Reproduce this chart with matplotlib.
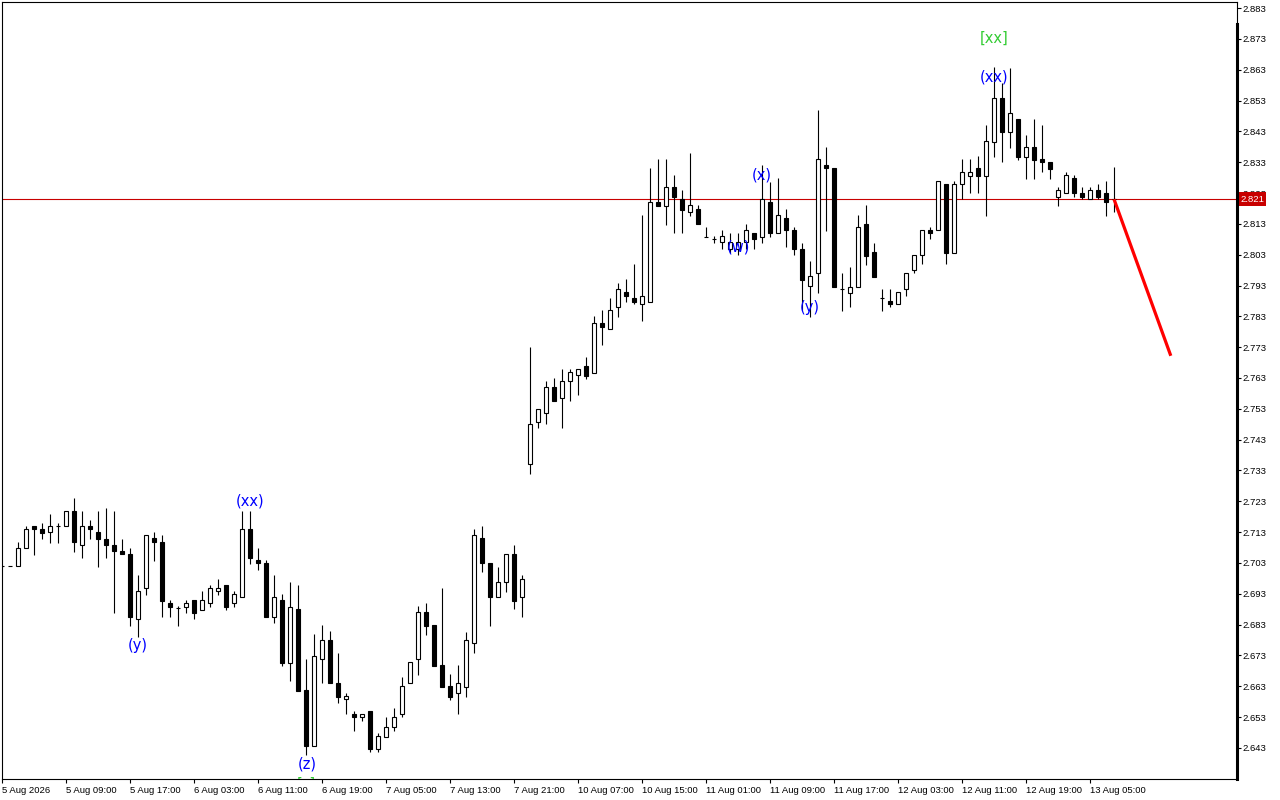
import numpy as np
import matplotlib.pyplot as plt
from matplotlib.lines import Line2D

# hourly candles, 5 Aug 2026 .. 13 Aug 2026
opens = [
    2.702, 2.702, 2.702, 2.7078, 2.7149, 2.7139, 2.713, 2.715, 2.7149, 2.7198,
    2.7087, 2.7149, 2.713, 2.7109, 2.7087, 2.7069, 2.7059, 2.6847, 2.6948, 2.711,
    2.7097, 2.6899, 2.6883, 2.6888, 2.691, 2.6879, 2.6899, 2.6938, 2.6958, 2.6899,
    2.6919, 2.7139, 2.704, 2.7029, 2.6856, 2.691, 2.6707, 2.6881, 2.6618, 2.6437,
    2.6718, 2.678, 2.664, 2.6588, 2.654, 2.653, 2.655, 2.6427, 2.6467, 2.6497,
    2.6539, 2.664, 2.6718, 2.687, 2.6829, 2.6699, 2.6631, 2.6607, 2.6629, 2.677,
    2.711, 2.7029, 2.6919, 2.6967, 2.7059, 2.6919, 2.735, 2.7488, 2.7518, 2.760,
    2.7566, 2.762, 2.764, 2.7669, 2.7647, 2.7808, 2.7788, 2.7859, 2.7908, 2.7889,
    2.7869, 2.7878, 2.820, 2.8189, 2.8249, 2.821, 2.8168, 2.8177, 2.8088, 2.808,
    2.807, 2.8049, 2.8049, 2.807, 2.810, 2.8088, 2.820, 2.810, 2.8148, 2.8109,
    2.8048, 2.7929, 2.797, 2.8321, 2.831, 2.7918, 2.7907, 2.7926, 2.813, 2.8038,
    2.7889, 2.788, 2.7869, 2.7918, 2.798, 2.8029, 2.811, 2.811, 2.8258, 2.8037,
    2.8258, 2.8286, 2.831, 2.8286, 2.8397, 2.8537, 2.8429, 2.8469, 2.8348, 2.8378,
    2.834, 2.8332, 2.8218, 2.8229, 2.8278, 2.8229, 2.821, 2.824, 2.8229, 2.821,
]
highs = [
    2.702, 2.702, 2.7099, 2.715, 2.7149, 2.7161, 2.7189, 2.7161, 2.7198, 2.724,
    2.7198, 2.7169, 2.7198, 2.7209, 2.7198, 2.7109, 2.7078, 2.6991, 2.712, 2.713,
    2.712, 2.691, 2.6891, 2.691, 2.691, 2.6938, 2.6958, 2.6978, 2.6958, 2.6938,
    2.7198, 2.7198, 2.7078, 2.704, 2.6991, 2.693, 2.6969, 2.6959, 2.6719, 2.680,
    2.6829, 2.681, 2.6739, 2.6609, 2.6551, 2.654, 2.655, 2.648, 2.6532, 2.656,
    2.6661, 2.6708, 2.6891, 2.6899, 2.6829, 2.6948, 2.667, 2.6699, 2.6807, 2.7139,
    2.715, 2.7029, 2.7018, 2.7059, 2.7088, 2.6991, 2.773, 2.7529, 2.7621, 2.7629,
    2.7659, 2.7659, 2.7658, 2.7697, 2.7831, 2.7851, 2.7889, 2.7937, 2.795, 2.800,
    2.8159, 2.831, 2.834, 2.834, 2.8289, 2.824, 2.8359, 2.819, 2.8119, 2.8091,
    2.811, 2.810, 2.810, 2.8129, 2.810, 2.8321, 2.8267, 2.8278, 2.8178, 2.812,
    2.8069, 2.8009, 2.8499, 2.8378, 2.831, 2.797, 2.7989, 2.8159, 2.8191, 2.8069,
    2.7918, 2.7918, 2.7908, 2.797, 2.8029, 2.811, 2.812, 2.8269, 2.8258, 2.8269,
    2.834, 2.834, 2.835, 2.8451, 2.864, 2.8586, 2.8635, 2.8469, 2.8418, 2.8469,
    2.8451, 2.8332, 2.8249, 2.8299, 2.8289, 2.8249, 2.8249, 2.8259, 2.827, 2.8314,
]
lows = [
    2.702, 2.702, 2.702, 2.7078, 2.7056, 2.7109, 2.7096, 2.7096, 2.7149, 2.7067,
    2.7047, 2.7109, 2.7018, 2.7047, 2.6869, 2.7059, 2.6827, 2.6789, 2.6926, 2.7038,
    2.6856, 2.6856, 2.6827, 2.6869, 2.6847, 2.6879, 2.6888, 2.6926, 2.6879, 2.6888,
    2.6919, 2.7027, 2.7007, 2.6856, 2.6836, 2.6697, 2.6648, 2.6616, 2.6407, 2.6437,
    2.664, 2.664, 2.6577, 2.6539, 2.6486, 2.6519, 2.6418, 2.6418, 2.6467, 2.6486,
    2.653, 2.664, 2.6668, 2.6797, 2.6697, 2.6629, 2.6586, 2.6539, 2.6596, 2.6737,
    2.700, 2.6827, 2.6919, 2.6937, 2.6882, 2.6856, 2.7318, 2.7469, 2.748, 2.7557,
    2.7469, 2.7557, 2.7575, 2.7627, 2.7647, 2.7737, 2.7788, 2.7829, 2.7878, 2.7869,
    2.7816, 2.7878, 2.8189, 2.8126, 2.810, 2.810, 2.8157, 2.8129, 2.8088, 2.8069,
    2.8049, 2.8035, 2.8029, 2.8049, 2.8049, 2.8069, 2.8088, 2.810, 2.8056, 2.8028,
    2.7851, 2.7829, 2.7907, 2.8108, 2.7926, 2.7848, 2.7859, 2.7926, 2.7998, 2.7959,
    2.7848, 2.7859, 2.7869, 2.7897, 2.797, 2.7999, 2.808, 2.811, 2.7999, 2.8037,
    2.8211, 2.8229, 2.8229, 2.8157, 2.8348, 2.833, 2.8377, 2.8337, 2.8276, 2.8276,
    2.8297, 2.8276, 2.8189, 2.8229, 2.8218, 2.821, 2.821, 2.821, 2.8157, 2.8168,
]
closes = [
    2.702, 2.702, 2.7078, 2.7139, 2.7139, 2.7128, 2.715, 2.715, 2.7198, 2.7097,
    2.7149, 2.7139, 2.7109, 2.7087, 2.7068, 2.7059, 2.6856, 2.6938, 2.712, 2.7097,
    2.6908, 2.6888, 2.6883, 2.6899, 2.6869, 2.691, 2.6948, 2.6948, 2.6888, 2.6929,
    2.7139, 2.7047, 2.7029, 2.6856, 2.6919, 2.6707, 2.6888, 2.6616, 2.6437, 2.6728,
    2.678, 2.664, 2.6596, 2.6599, 2.653, 2.654, 2.6427, 2.6469, 2.6497, 2.653,
    2.6631, 2.6708, 2.687, 2.6827, 2.6697, 2.6629, 2.6596, 2.664, 2.678, 2.7121,
    2.7029, 2.6919, 2.6967, 2.7059, 2.6908, 2.6977, 2.748, 2.7529, 2.760, 2.7557,
    2.762, 2.7649, 2.7658, 2.7638, 2.7808, 2.7797, 2.785, 2.7918, 2.7897, 2.7878,
    2.7897, 2.820, 2.8189, 2.8249, 2.8218, 2.8176, 2.819, 2.8129, 2.8088, 2.808,
    2.809, 2.807, 2.807, 2.8109, 2.808, 2.821, 2.810, 2.8158, 2.8109, 2.8048,
    2.7948, 2.796, 2.8339, 2.831, 2.7926, 2.7918, 2.7926, 2.812, 2.8027, 2.7959,
    2.7889, 2.7869, 2.7908, 2.797, 2.8029, 2.811, 2.810, 2.8269, 2.8037, 2.8258,
    2.8297, 2.8297, 2.8286, 2.8399, 2.8537, 2.8429, 2.8489, 2.8348, 2.8378, 2.8337,
    2.833, 2.8308, 2.824, 2.8288, 2.8229, 2.8218, 2.824, 2.8218, 2.820, 2.821,
]

xlabels = ['5 Aug 2026', '5 Aug 09:00', '5 Aug 17:00', '6 Aug 03:00', '6 Aug 11:00',
           '6 Aug 19:00', '7 Aug 05:00', '7 Aug 13:00', '7 Aug 21:00', '10 Aug 07:00',
           '10 Aug 15:00', '11 Aug 01:00', '11 Aug 09:00', '11 Aug 17:00', '12 Aug 03:00',
           '12 Aug 11:00', '12 Aug 19:00', '13 Aug 05:00']
last_price = 2.821
forecast_x = [139, 146.1]
forecast_y = [2.821, 2.7702]

# wave labels: (bar, price, text, colour)
waves = [
    (17, 2.6762, '(y)', 'blue'),
    (31, 2.7232, '(xx)', 'blue'),
    (38.1, 2.6378, '(z)', 'blue'),
    (38.1, 2.6312, '[z]', 'green'),
    (92.0, 2.8054, '(w)', 'blue'),
    (95.0, 2.8289, '(x)', 'blue'),
    (101, 2.7859, '(y)', 'blue'),
    (124, 2.8607, '(xx)', 'blue'),
    (124, 2.8732, '[xx]', 'green'),
]
wave_colors = {'blue': '#0000ff', 'green': '#33cc33'}

tickfont = ['Liberation Sans', 'DejaVu Sans']
tick_fs = 6.8

o = np.array(opens); h = np.array(highs); l = np.array(lows); c = np.array(closes)
x = np.arange(len(o))

fig = plt.figure(figsize=(12.8, 8), dpi=100)
ax = fig.add_axes([2/1280, 21/800, 1234.7/1280, 777/800])

ax.vlines(x, l, h, colors='black', lw=0.8, zorder=2)
up = c >= o
ax.bar(x[up], (c - o)[up], bottom=o[up], width=0.5, color='white',
       edgecolor='black', lw=0.8, zorder=3)
ax.bar(x[~up], (c - o)[~up], bottom=o[~up], width=0.5, color='black',
       edgecolor='black', lw=0.8, zorder=3)

ax.axhline(last_price, color='#c80000', lw=0.8, zorder=1)
ax.plot(forecast_x, forecast_y, color='#ff0000', lw=2.3, zorder=4,
        solid_capstyle='butt')

for bx, py, txt, col in waves:
    ax.text(bx, py, txt, color=wave_colors[col], fontsize=10.5,
            ha='center', va='center', clip_on=True, zorder=5)

ax.set_xlim(0, 1234.7/8)
ax.set_ylim(2.63294, 2.88495)

ax.set_xticks(np.arange(0, 8*len(xlabels), 8))
ax.set_xticklabels(xlabels, ha='left', family=tickfont, fontsize=tick_fs)
yt = np.arange(2.643, 2.8835, 0.01)
ax.yaxis.tick_right()
ax.set_yticks(yt)
ax.set_yticklabels(['%.3f' % v for v in yt], family=tickfont, fontsize=tick_fs)
ax.tick_params(axis='x', direction='out', length=3, width=0.8, pad=2)
ax.tick_params(axis='y', direction='out', length=3, width=0.8, pad=1)

for s in ax.spines.values():
    s.set_linewidth(0.8)

# price label on the axis
ax.text(1.0028, last_price, '2.821', transform=ax.get_yaxis_transform(),
        color='white', family=tickfont, fontsize=tick_fs, ha='left', va='center',
        clip_on=False, zorder=6,
        bbox=dict(boxstyle='square,pad=0.25', fc='#c80000', ec='none'))

fig.add_artist(Line2D([1236.6/1280]*2, [21/800, 776/800], lw=2.2, color='black'))

plt.savefig('out.png', dpi=100)
